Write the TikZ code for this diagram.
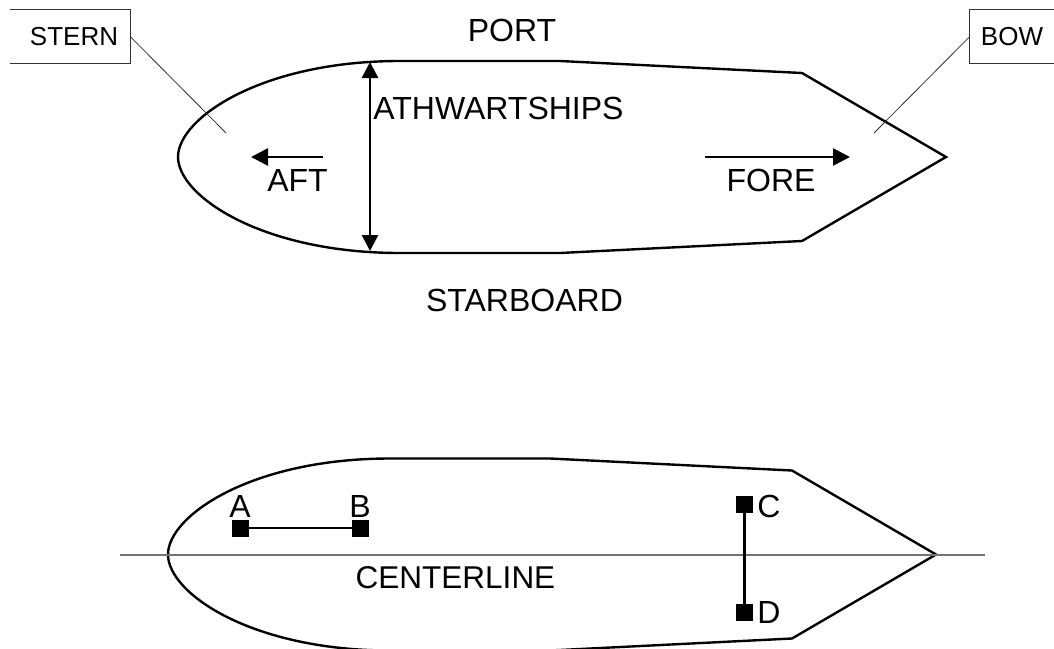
\documentclass[tikz,border=0pt]{standalone}
\usepackage{fontspec}
\setmainfont{Liberation Sans}
\usetikzlibrary{arrows.meta}
\tikzset{
  hull/.style={draw=black,line width=2.4pt,line join=miter},
  lab/.style={font=\fontsize{32}{36}\selectfont,inner sep=0pt,anchor=base,text=black},
  callbox/.style={font=\fontsize{26}{30}\selectfont,inner sep=0pt,minimum height=53pt},
  boxline/.style={draw=black!80,line width=0.9pt},
  leader/.style={draw=black!80,line width=0.8pt},
  dirarrow/.style={draw=black,line width=2.6pt,-{Triangle[length=17pt,width=17pt]}},
  bothway/.style={draw=black,line width=2.6pt,{Triangle[length=16pt,width=16pt]}-{Triangle[length=16pt,width=16pt]}},
  pin/.style={fill=black,draw=none,minimum size=17pt,inner sep=0pt,rectangle},
  link/.style={draw=black,line width=2.2pt},
  cline/.style={draw=black!55,line width=1.3pt}
}
\begin{document}
\begin{tikzpicture}[x=1pt,y=-1pt]
\useasboundingbox (0,0) rectangle (1054,648);
\clip (0,0) rectangle (1054,648);
% upper hull
\draw[hull] (178,157) .. controls (178,118) and (262,61) .. (400,61) -- (560,61) -- (802,73) -- (946,157) -- (802,241) -- (560,253) -- (400,253) .. controls (262,253) and (178,196) .. (178,157) -- cycle;
% callouts
\node[callbox,minimum width=120pt] (stern) at (70,36.5) {\hspace*{8pt}STERN};
\draw[boxline] (stern.north west) -- (stern.north east) -- (stern.south east) -- (stern.south west);
\node[callbox,minimum width=84pt] (bow) at (1012,36.5) {BOW};
\draw[boxline] (bow.north east) -- (bow.north west) -- (bow.south west) -- (bow.south east);
\coordinate (sternend) at (226,133);
\coordinate (bowend) at (874,133);
\draw[leader] (stern.east) -- (sternend);
\draw[leader] (bow.west) -- (bowend);
% labels
\node[lab] (port) at (512,41) {PORT};
\node[lab] (stbd) at (524.5,311) {STARBOARD};
\node[lab] (athw) at (498.5,119) {ATHWARTSHIPS};
\node[lab] (aft) at (297.5,191) {AFT};
\node[lab] (fore) at (771,191) {FORE};
% arrows
\coordinate (afts) at (323,157); \coordinate (aftt) at (251,157);
\coordinate (fores) at (705,157); \coordinate (foret) at (850,157);
\coordinate (atht) at (370,62); \coordinate (athb) at (370,251);
\draw[dirarrow] (afts) -- (aftt);
\draw[dirarrow] (fores) -- (foret);
\draw[bothway] (atht) -- (athb);
% lower hull
\draw[hull] (168,554.5) .. controls (168,515.5) and (252,458.5) .. (390,458.5) -- (550,458.5) -- (792,470.5) -- (936,554.5) -- (792,638.5) -- (550,650.5) -- (390,650.5) .. controls (252,650.5) and (168,593.5) .. (168,554.5) -- cycle;
\coordinate (cl1) at (120,555); \coordinate (cl2) at (985,555);
\draw[cline] (cl1) -- (cl2);
\node[lab,font=\fontsize{31.5}{36}\selectfont] (center) at (455.5,588) {CENTERLINE};
% points
\node[pin] (pa) at (240.5,528) {};
\node[pin] (pb) at (360.5,528) {};
\node[pin] (pc) at (744.5,504.5) {};
\node[pin] (pd) at (744.5,612.5) {};
\draw[link] (pa) -- (pb);
\draw[link] (pc) -- (pd);
\node[lab] (la) at (240,517) {A};
\node[lab] (lb) at (360,517) {B};
\node[lab] (lc) at (769,517) {C};
\node[lab] (ld) at (769,623) {D};
\end{tikzpicture}
\end{document}
